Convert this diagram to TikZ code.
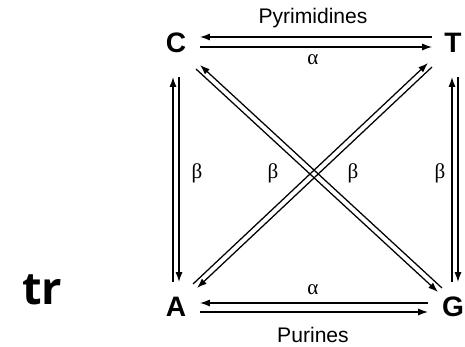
\documentclass[tikz,border=0pt]{standalone}
\usepackage{fontspec}
\setmainfont{Liberation Sans}
\newfontfamily\trfont{Open Sans}
\newfontfamily\grfont{Liberation Serif}
\usetikzlibrary{arrows.meta}
\tikzset{base/.style = {font=\fontsize{20}{20}\selectfont\bfseries, inner sep=0pt},
  lbl/.style = {font=\fontsize{15}{15}\selectfont, inner sep=0pt},
  greek/.style = {font=\grfont\fontsize{15}{15}\selectfont, inner sep=0pt},
  arr/.style = {-{Latex[length=7pt,width=5pt]}, line width=.9pt}}

\begin{document}
\begin{tikzpicture}[x=0.025cm, y=-0.025cm]
  \useasboundingbox (0,0) rectangle (465,347);
  \node[base] (C) at (176,43) {C};
  \node[base] (T) at (453,43) {T};
  \node[base] (A) at (176,307) {A};
  \node[base] (G) at (453,307) {G};
  % C -- T, A -- G
  \draw[arr] ([shift={(-21,-6)}]T.center) -- ([shift={(24,-6)}]C.center);
  \draw[arr] ([shift={(24,4)}]C.center) -- ([shift={(-21,4)}]T.center);
  \draw[arr] ([shift={(-25,-4)}]G.center) -- ([shift={(24,-4)}]A.center);
  \draw[arr] ([shift={(24,5)}]A.center) -- ([shift={(-25,5)}]G.center);
  % C -- A, T -- G
  \draw[arr] ([shift={(-3,-25)}]A.center) -- ([shift={(-3,34)}]C.center);
  \draw[arr] ([shift={(3,34)}]C.center) -- ([shift={(3,-25)}]A.center);
  \draw[arr] ([shift={(-1,-25)}]G.center) -- ([shift={(-1,34)}]T.center);
  \draw[arr] ([shift={(5,34)}]T.center) -- ([shift={(5,-25)}]G.center);
  % diagonals
  \draw[arr] ([shift={(-11,-19)}]G.center) -- ([shift={(24,22)}]C.center);
  \draw[arr] ([shift={(20,26)}]C.center) -- ([shift={(-15,-15)}]G.center);
  \draw[arr] ([shift={(17,-23)}]A.center) -- ([shift={(-25,20)}]T.center);
  \draw[arr] ([shift={(-21,24)}]T.center) -- ([shift={(21,-19)}]A.center);
  \node[lbl] (pyr) at (313,18) {Pyrimidines};
  \node[greek] (a1) at (313,60) {α};
  \node[greek] (a2) at (313,290) {α};
  \node[lbl] (pur) at (313,335) {Purines};
  \foreach \x/\n in {197/1, 273/2, 353/3, 440/4}
    \node[greek] (b\n) at (\x,173) {β};
  \node[font=\trfont\fontsize{32}{32}\selectfont\bfseries] (tr) at (42,290) {tr};
\end{tikzpicture}
\end{document}
